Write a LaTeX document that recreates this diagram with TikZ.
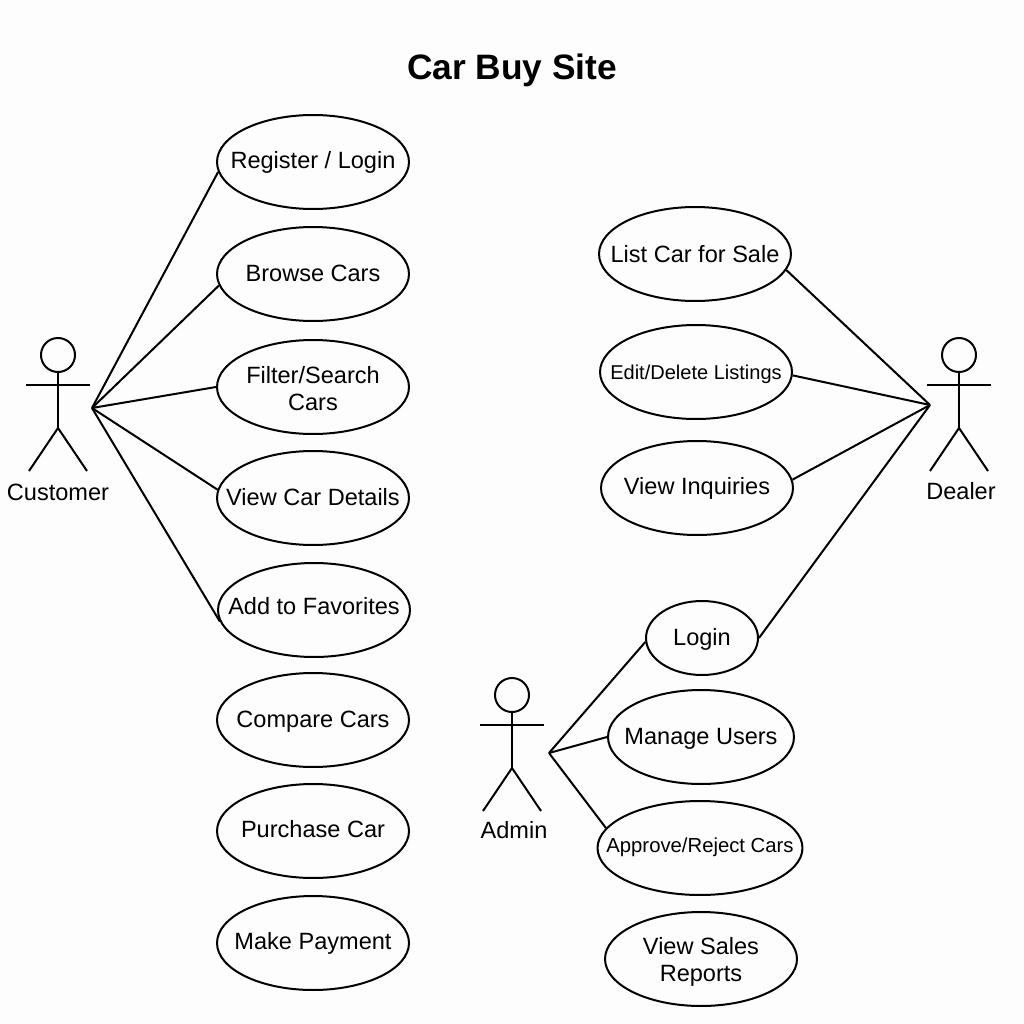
\documentclass[tikz,border=0pt]{standalone}
\usepackage{fontspec}
\setmainfont{Liberation Sans}
\usetikzlibrary{shapes.geometric}
\definecolor{paper}{HTML}{FDFDFD}
\tikzstyle{usecase} = [ellipse, inner sep=0pt, minimum width=3.84cm, minimum height=1.88cm, draw=black, line width=0.04cm, font=\fontsize{13.4}{15.4}\selectfont]
\tikzstyle{actorname} = [inner sep=0pt, font=\fontsize{13.4}{15.4}\selectfont]
\tikzstyle{stick} = [line width=0.04cm, draw=black]
\tikzstyle{link} = [line width=0.04cm, draw=black]
% text that does not size its ellipse, raised by the optional amount
\newcommand{\uctext}[2][0pt]{\raisebox{\dimexpr#1-0.25em\relax}[0pt][0pt]{\makebox[0pt][c]{\begin{tabular}{@{}c@{}}#2\end{tabular}}}}

\begin{document}
\begin{tikzpicture}[x=0.02cm, y=-0.02cm]

	\useasboundingbox [fill=paper] (0,0) rectangle (1024,1024);

	\node (title) [inner sep=0pt, font=\fontsize{20.1}{24}\selectfont\bfseries] at (512,70) {Car Buy Site};

	% customer side
	\node (reg) [usecase] at (313,162) {\uctext[-0.6pt]{Register / Login}};
	\node (browse) [usecase] at (313,274) {\uctext[-1.7pt]{Browse Cars}};
	\node (filter) [usecase] at (313,387) {\uctext[-3.1pt]{Filter/Search\\Cars}};
	\node (details) [usecase] at (313,498) {\uctext[-1.4pt]{View Car Details}};
	\node (fav) [usecase] at (314,610) {\uctext[0pt]{Add to Favorites}};
	\node (compare) [usecase] at (313,720) {\uctext[-1.6pt]{Compare Cars}};
	\node (purchase) [usecase] at (313,831) {\uctext[-0.6pt]{Purchase Car}};
	\node (payment) [usecase] at (313,943) {\uctext[-0.6pt]{Make Payment}};

	% dealer side
	\node (list) [usecase] at (695,254) {\uctext[-2.2pt]{List Car for Sale}};
	\node (edit) [usecase, font=\fontsize{11.4}{13}\selectfont] at (696,372) {\uctext[-1.7pt]{Edit/Delete Listings}};
	\node (inq) [usecase] at (697,488) {\uctext[-0.6pt]{View Inquiries}};

	% admin side
	\node (login) [usecase, minimum width=2.24cm, minimum height=1.48cm] at (702,638) {\uctext[-1.6pt]{Login}};
	\node (users) [usecase, minimum width=3.72cm] at (701,737) {\uctext[-1.6pt]{Manage Users}};
	\node (approve) [usecase, minimum width=4.1cm, font=\fontsize{11.55}{14}\selectfont] at (700,848) {\uctext{Approve/Reject Cars}};
	\node (reports) [usecase] at (701,959) {\uctext[-2.3pt]{View Sales\\Reports}};

	% stick figures
	\foreach \px/\py/\who/\lx/\ly/\txt in {58/355/customer/58/492/Customer, 959/355/dealer/961/491/Dealer, 512/695/admin/514/830/Admin} {
		\draw [stick] (\px,\py) circle [radius=17];
		\draw [stick] (\px,\py+17) -- (\px,\py+73);
		\draw [stick] (\px-32,\py+30) -- (\px+32,\py+30);
		\draw [stick] (\px-29,\py+116) -- (\px,\py+73) -- (\px+29,\py+116);
		\node (\who) [actorname] at (\lx,\ly) {\txt};
	}

	\coordinate (custhub) at (92,408);
	\coordinate (dealhub) at (930,405);
	\coordinate (adminhub) at (549,753);

	\draw [link] (custhub) -- (reg.186);
	\draw [link] (custhub) -- (browse.187);
	\draw [link] (custhub) -- (filter.west);
	\draw [link] (custhub) -- (details.175);
	\draw [link] (custhub) -- (fav.187);

	\draw [link] (dealhub) -- (list.-10);
	\draw [link] (dealhub) -- (edit.-2);
	\draw [link] (dealhub) -- (inq.5);
	\draw [link] (dealhub) -- (login.east);

	\draw [link] (adminhub) -- (login.184);
	\draw [link] (adminhub) -- (users.west);
	\draw [link] (adminhub) -- (approve.168);

\end{tikzpicture}
\end{document}
